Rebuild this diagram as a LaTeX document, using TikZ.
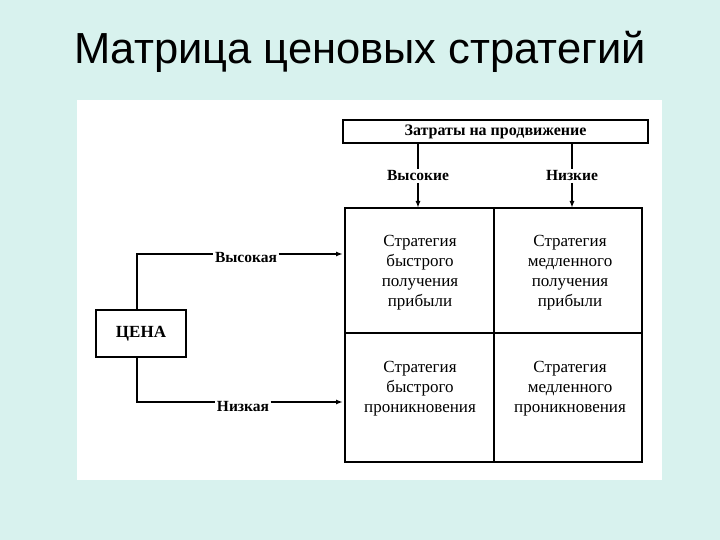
\documentclass[tikz,border=0pt]{standalone}
\usepackage{fontspec}
\setmainfont{Liberation Serif}
\newfontfamily\titlefont{Liberation Sans}
\usetikzlibrary{arrows.meta}
\definecolor{bgc}{HTML}{D8F2EE}
\tikzset{
  ln/.style={line width=1.6pt},
  arr/.style={ln,-{Latex[length=7pt,width=5pt]}},
  lbl/.style={font=\bfseries\fontsize{15.5}{17}\selectfont, inner sep=1.5pt},
  cell/.style={font=\fontsize{17}{20}\selectfont, align=center, inner sep=0pt},
  box/.style={draw, line width=1.6pt}
}
\begin{document}
\begin{tikzpicture}[x=1pt,y=-1pt]
\fill[bgc] (0,0) rectangle (720,540);
\useasboundingbox (0,0) rectangle (720,540);
\fill[white] (77,100) rectangle (662,480);
\node[font=\titlefont\fontsize{43.5}{48}\selectfont] (title) at (360,52) {Матрица ценовых стратегий};
% top box
\node[box, minimum width=305pt, minimum height=23pt, inner sep=0pt, font=\bfseries\fontsize{16}{18}\selectfont] (cost) at (495.5,131.5) {Затраты на продвижение};
\node[lbl] (hi) at (418,176) {Высокие};
\node[lbl] (lo) at (572,176) {Низкие};
% matrix
\draw[box] (345,208) rectangle (642,462);
\draw[ln] (494,208) -- (494,462);
\draw[ln] (345,333) -- (642,333);
\coordinate (mtl) at (418,208);
\coordinate (mtr) at (572,208);
\draw[ln] (cost.south -| hi) -- (hi.north);
\draw[ln] (cost.south -| lo) -- (lo.north);
\draw[arr] (hi.south) -- (mtl);
\draw[arr] (lo.south) -- (mtr);
\node[cell] (c11) at (420,273) {Стратегия\\быстрого\\получения\\прибыли};
\node[cell] (c12) at (570,273) {Стратегия\\медленного\\получения\\прибыли};
\node[cell] (c21) at (420,389) {Стратегия\\быстрого\\проникновения};
\node[cell] (c22) at (570,389) {Стратегия\\медленного\\проникновения};
% price
\node[box, minimum width=90pt, minimum height=47pt, inner sep=0pt, font=\bfseries\fontsize{17}{19}\selectfont] (cena) at (141,333.5) {ЦЕНА};
\node[lbl] (vh) at (246,258) {Высокая};
\node[lbl] (vl) at (243,406) {Низкая};
\coordinate (ah) at (343,254);
\coordinate (al) at (343,402);
\draw[ln] ([xshift=-4pt]cena.north) |- (vh.west |- ah);
\draw[arr] (vh.east |- ah) -- (ah);
\draw[ln] ([xshift=-4pt]cena.south) |- (vl.west |- al);
\draw[arr] (vl.east |- al) -- (al);
\end{tikzpicture}
\end{document}
